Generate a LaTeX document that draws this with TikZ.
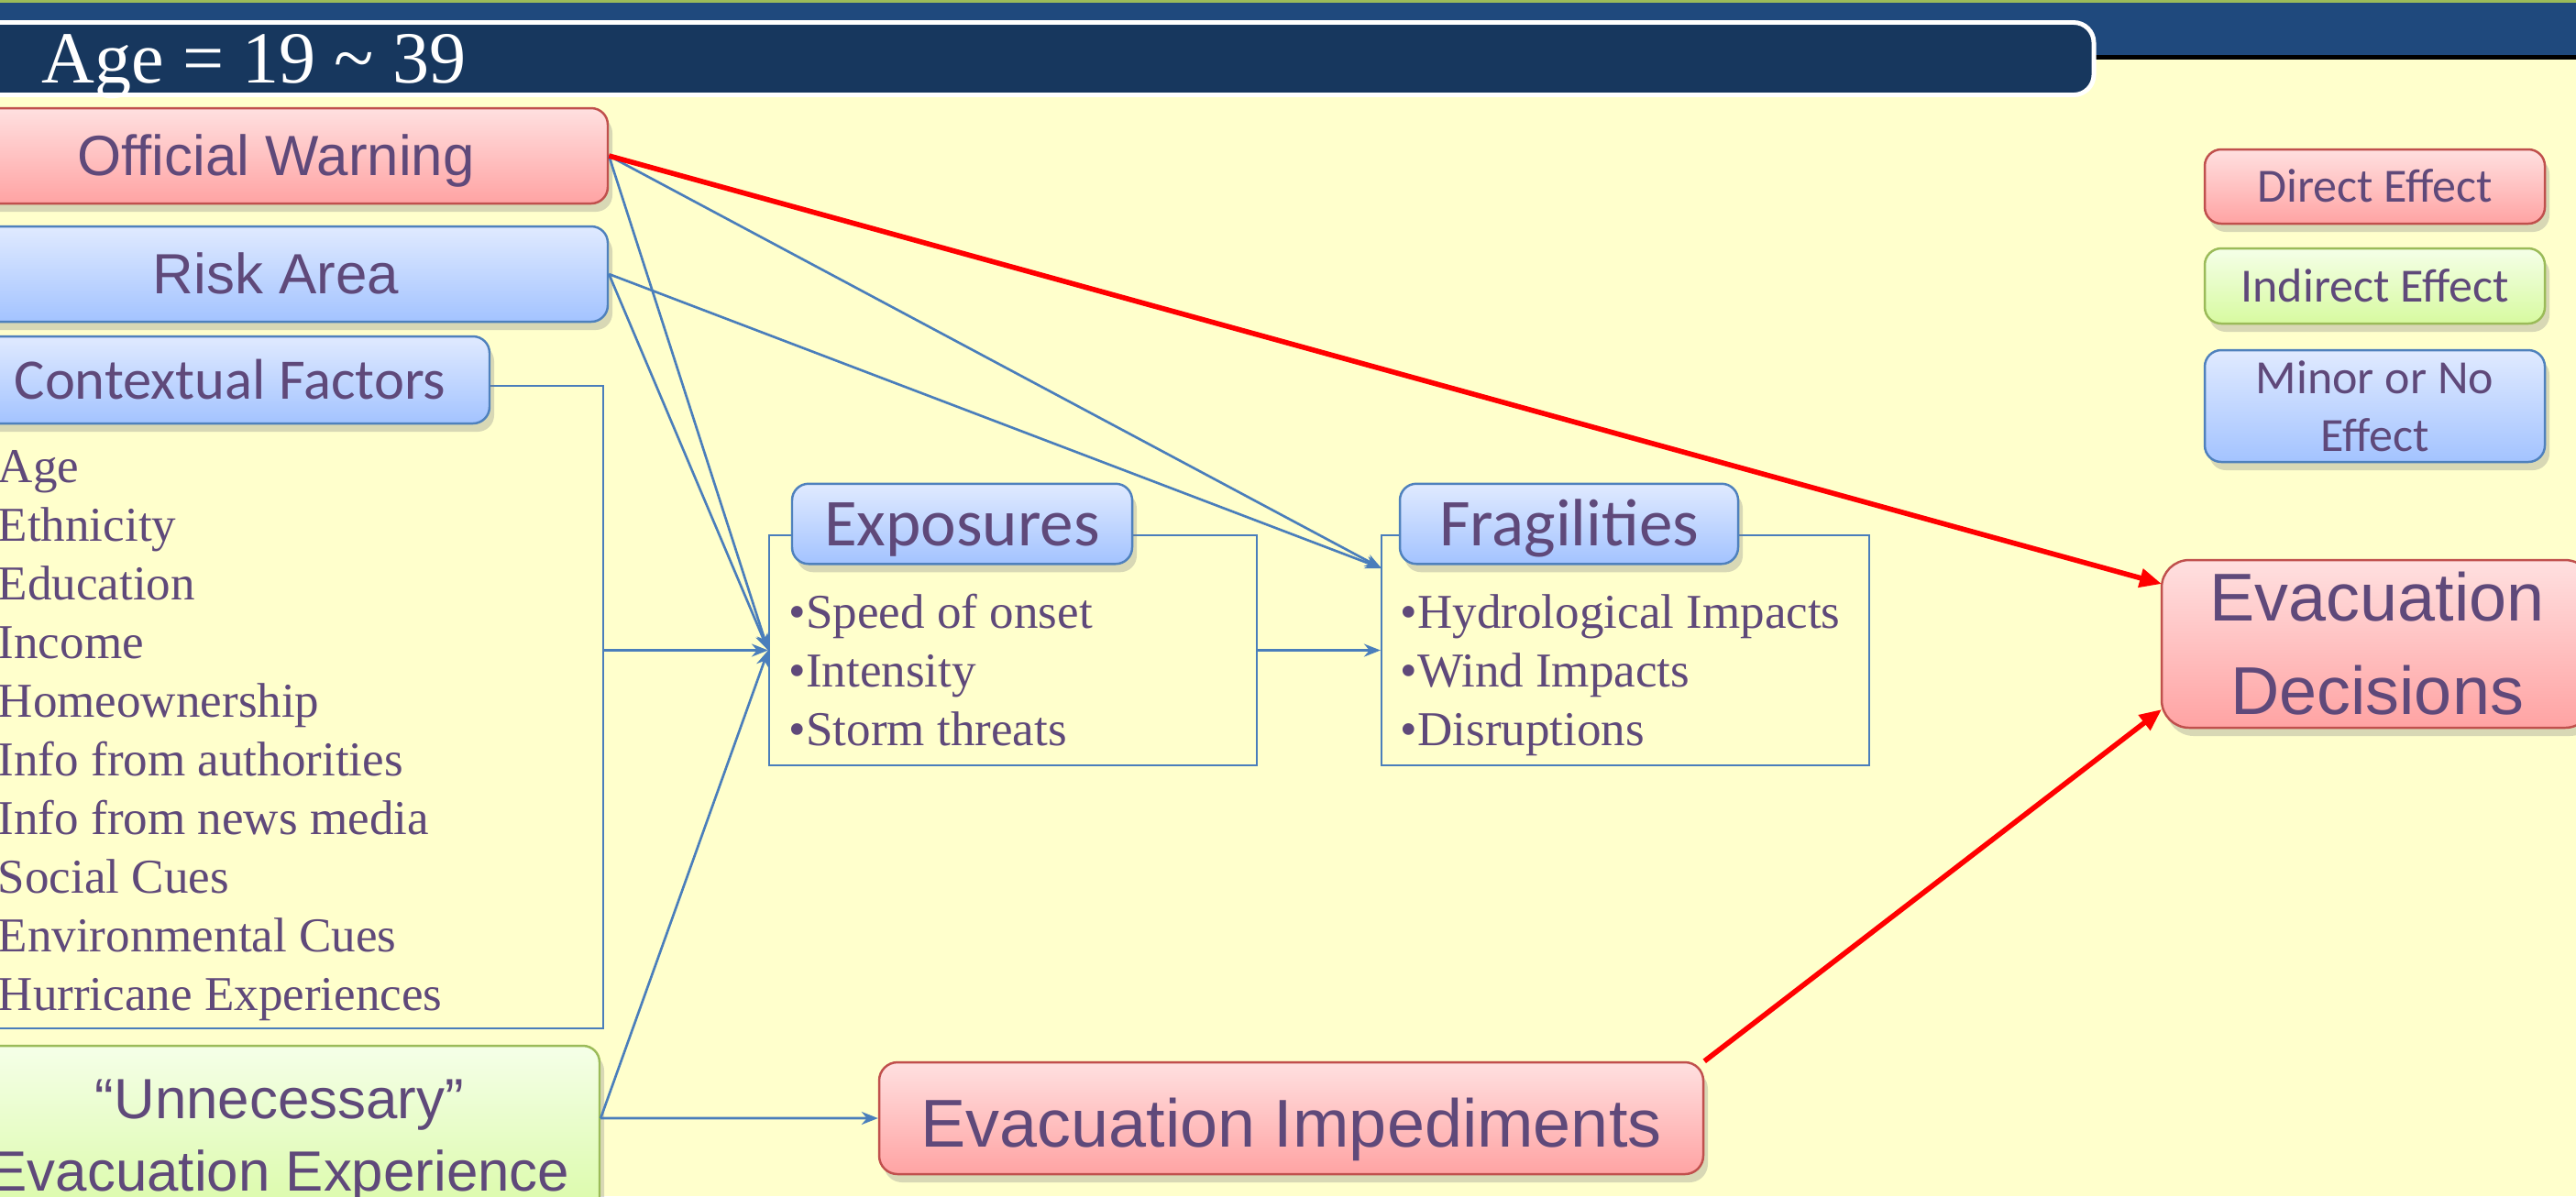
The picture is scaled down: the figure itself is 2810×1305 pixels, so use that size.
\documentclass[tikz,border=0pt]{standalone}
\usepackage{fontspec}
\setmainfont{Liberation Serif}
\newfontfamily\arialf{Liberation Sans}
\newfontfamily\calibf{Carlito}
\usetikzlibrary{arrows.meta,shadows}

\definecolor{bgyellow}{HTML}{FFFFCC}
\definecolor{bandblue}{HTML}{1F497D}
\definecolor{navy}{HTML}{17375E}
\definecolor{txtpurple}{HTML}{5F497A}
\definecolor{lineblue}{HTML}{4A7EBB}
\definecolor{redtop}{HTML}{FFE0E0}
\definecolor{redbot}{HTML}{FFA3A3}
\definecolor{redline}{HTML}{C0504D}
\definecolor{greentop}{HTML}{F5FFE8}
\definecolor{greenbot}{HTML}{D7FAA0}
\definecolor{greenline}{HTML}{9BBB59}
\definecolor{bluetop}{HTML}{E0EAFF}
\definecolor{bluebot}{HTML}{A3C3FF}
\definecolor{blueline}{HTML}{4F81BD}

\tikzset{
	effbox/.style={rounded corners=1.8mm, line width=0.7pt, inner sep=0pt, text=txtpurple, align=center,
		drop shadow={opacity=0.3, shadow xshift=0.5mm, shadow yshift=-0.9mm}},
	redbox/.style={effbox, draw=redline, top color=redtop, bottom color=redbot},
	greenbox/.style={effbox, draw=greenline, top color=greentop, bottom color=greenbot},
	bluebox/.style={effbox, draw=blueline, top color=bluetop, bottom color=bluebot},
	oneline/.style 2 args={text height=#1, text depth=#2},
	listframe/.style={draw=lineblue, line width=0.6pt, inner sep=0pt},
	listitem/.style={anchor=base west, inner sep=0pt, text=txtpurple, font=\fontsize{15.1pt}{18pt}\selectfont},
	arialbig/.style={font=\arialf\fontsize{17.6pt}{22.5pt}\selectfont},
	arialhuge/.style={font=\arialf\fontsize{21pt}{29pt}\selectfont},
	calibhead/.style={font=\calibf\fontsize{20.8pt}{24pt}\selectfont},
	caliblegend/.style={font=\calibf\fontsize{14.8pt}{17.9pt}\selectfont},
	bluearr/.style={draw=lineblue, line width=0.75pt, -{Stealth[length=1.8mm,width=1.4mm]}},
	redarr/.style={draw=red, line width=1.6pt, -{Triangle[length=2.4mm,width=2mm]}},
}

\begin{document}
\begin{tikzpicture}[x=0.1mm,y=-0.1mm]
	\useasboundingbox (0,0) rectangle (2810,1305);
	\clip (0,0) rectangle (2810,1305);
	\fill[bgyellow] (0,0) rectangle (2810,1305);
	\fill[bandblue] (0,0) rectangle (2810,62);
	\fill[black] (0,60) rectangle (2810,65);
	\fill[greenline] (0,0) rectangle (2810,3);
	\draw[white, line width=1.4pt, fill=navy, rounded corners=2.2mm] (-40,24.5) rectangle (2284,103.5);
	\node[anchor=base west, inner sep=0pt, text=white, font=\fontsize{22.8pt}{26pt}\selectfont] (ttl) at (45,90) {Age = 19 \textasciitilde{} 39};
	
	\node[listframe, minimum width=67.8mm, minimum height=70.1mm] (cfr) at (319,771.5) {};
	\node[listframe, minimum width=53.2mm, minimum height=25.1mm] (exr) at (1105,709.5) {};
	\node[listframe, minimum width=53.2mm, minimum height=25.1mm] (frr) at (1773,709.5) {};
	
	\foreach \t [count=\i from 0] in {Age, Ethnicity, Education, Income, Homeownership, Info from authorities, Info from news media, Social Cues, Environmental Cues, Hurricane Experiences}
		\node[listitem] (cf\i) at (-3,{526+64*\i}) {\t};
	\foreach \t [count=\i from 0] in {Speed of onset, Intensity, Storm threats}
		\node[listitem] (ex\i) at (860,{685+64*\i}) {•\t};
	\foreach \t [count=\i from 0] in {Hydrological Impacts, Wind Impacts, Disruptions}
		\node[listitem] (fr\i) at (1527,{685+64*\i}) {•\t};
	
	\node[redbox, arialbig, oneline={15.9pt}{3.7pt}, minimum width=72.4mm, minimum height=10.4mm] (ow) at (301,170) {Official Warning};
	\node[bluebox, arialbig, oneline={15.9pt}{3.7pt}, minimum width=72.4mm, minimum height=10.4mm] (ra) at (301,299) {Risk Area};
	\node[bluebox, oneline={16.6pt}{4.8pt}, font=\calibf\fontsize{17.8pt}{21pt}\selectfont, minimum width=56.6mm, minimum height=9.5mm] (cf) at (251,414.5) {Contextual Factors};
	\node[greenbox, arialbig, minimum width=69.8mm, minimum height=20.8mm] (ue) at (305,1245) {“Unnecessary”\\Evacuation Experience};
	\node[bluebox, calibhead, oneline={19.3pt}{5.6pt}, minimum width=37.1mm, minimum height=8.3mm] (exh) at (1049.5,571.5) {Exposures};
	\node[bluebox, calibhead, oneline={19.3pt}{5.6pt}, minimum width=36.9mm, minimum height=8.3mm] (frh) at (1711.5,571.5) {Fragilities};
	\node[redbox, arialhuge, oneline={20.6pt}{2.9pt}, rounded corners=2mm, minimum width=89.9mm, minimum height=12.2mm] (ei) at (1408.5,1220) {Evacuation Impediments};
	\node[redbox, arialhuge, rounded corners=3mm, minimum width=47mm, minimum height=18.3mm] (ed) at (2593,702.5) {Evacuation\\Decisions};
	
	\node[redbox, caliblegend, oneline={13.8pt}{4pt}, minimum width=37.1mm, minimum height=8.1mm] (le1) at (2590.5,203.5) {Direct Effect};
	\node[greenbox, caliblegend, oneline={13.8pt}{4pt}, minimum width=37.1mm, minimum height=8.2mm] (le2) at (2590.5,312) {Indirect Effect};
	\node[bluebox, caliblegend, minimum width=37.1mm, minimum height=12.2mm] (le3) at (2590.5,443) {Minor or No\\Effect};
	
	\coordinate (frin) at (1507,620);
	\coordinate (edtop) at (2358,637);
	\coordinate (edbot) at (2358,774);
	
	\draw[bluearr] (ow.east) -- (exr.west);
	\draw[bluearr] (ra.east) -- (exr.west);
	\draw[bluearr] (cfr.east |- exr.west) -- (exr.west);
	\draw[bluearr] ([yshift=2.5mm]ue.east) -- (exr.west);
	\draw[bluearr] (ow.east) -- (frin);
	\draw[bluearr] (ra.east) -- (frin);
	\draw[bluearr] (exr.east) -- (frr.west);
	\draw[bluearr] ([yshift=2.5mm]ue.east) -- (ei.west);
	\draw[redarr] (ow.east) -- (edtop);
	\draw[redarr] (ei.north east) -- (edbot);
\end{tikzpicture}
\end{document}
